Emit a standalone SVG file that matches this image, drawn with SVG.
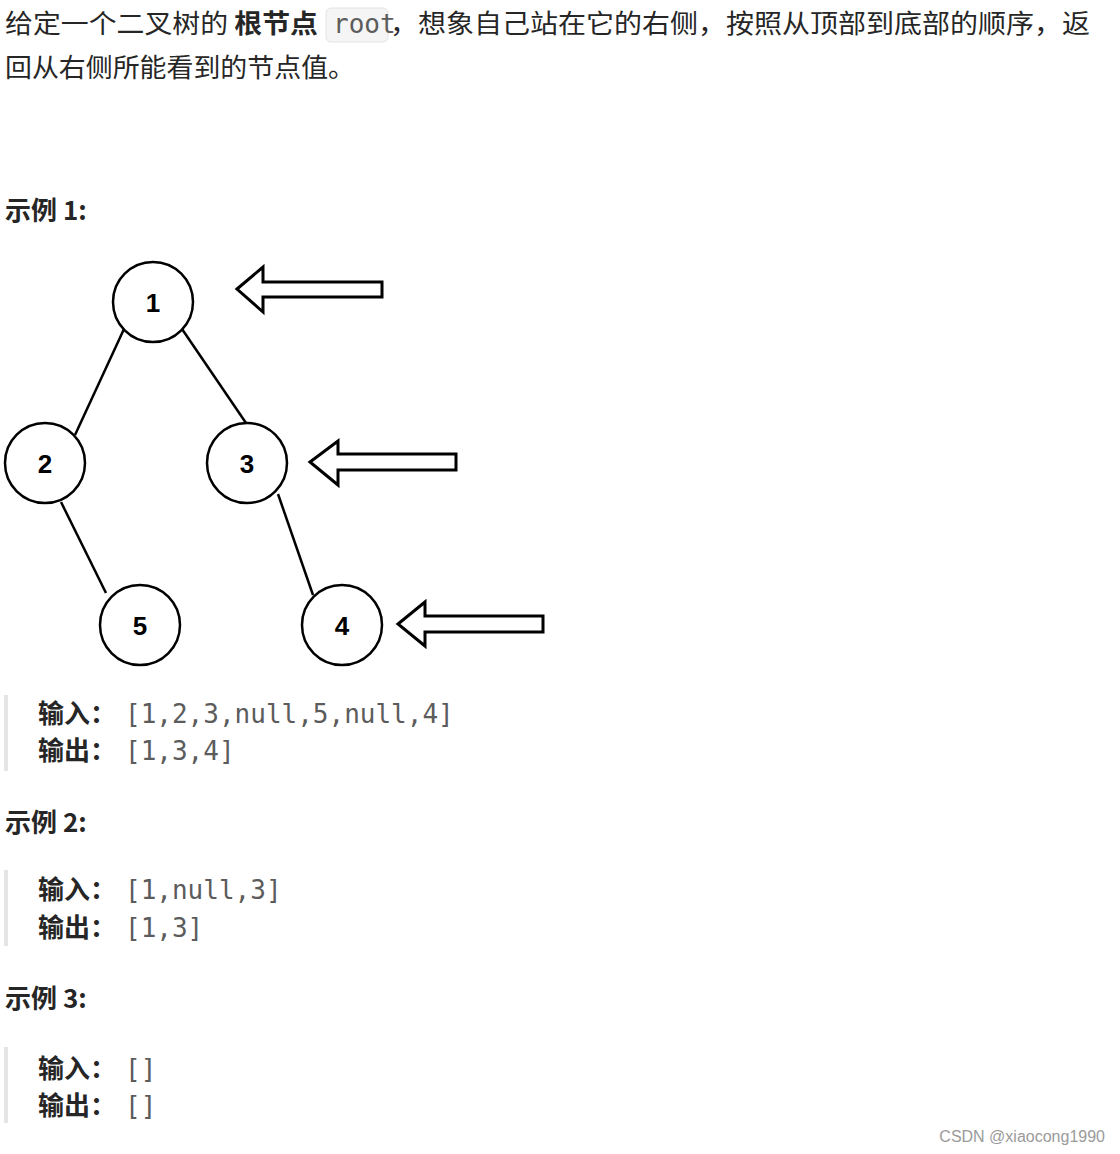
<svg xmlns="http://www.w3.org/2000/svg" width="1120" height="1154" viewBox="0 0 1120 1154">
<style>
.t{font-family:"Noto Sans CJK SC","Liberation Sans",sans-serif;font-size:26px;fill:#262626}
.b{font-weight:bold}
.m{font-family:"DejaVu Sans Mono","Liberation Mono",monospace;font-size:26px;fill:#5c5c5c}
.n circle{fill:#fff;stroke:#000;stroke-width:2.5}
.n text{font-family:"Liberation Sans",sans-serif;font-weight:bold;font-size:26px;text-anchor:middle;fill:#000}
.ar{fill:#fff;stroke:#000;stroke-width:3}
.bar{fill:#e5e5e5}
</style>
<rect width="1120" height="1154" fill="#fff"/>
<text class="t" x="5" y="33" textLength="313" lengthAdjust="spacingAndGlyphs">给定一个二叉树的 <tspan class="b">根节点</tspan></text>
<rect x="326" y="8" width="62" height="34" rx="5" fill="#f5f5f5" stroke="#e3e3e3"/>
<text class="m" x="333" y="33" font-size="21">root</text>
<text class="t" x="390" y="33" textLength="700" lengthAdjust="spacingAndGlyphs">，想象自己站在它的右侧，按照从顶部到底部的顺序，返</text>
<text class="t" x="5" y="77" textLength="350" lengthAdjust="spacingAndGlyphs">回从右侧所能看到的节点值。</text>
<text class="t b" x="5" y="220">示例 1:</text>
<g id="edges" stroke="#000" stroke-width="2.5">
<line x1="124" y1="329" x2="75" y2="435"/>
<line x1="182" y1="329" x2="246" y2="423"/>
<line x1="61" y1="502" x2="106" y2="593"/>
<line x1="278" y1="494" x2="313" y2="595"/>
</g>
<g id="n1" class="n"><circle cx="153" cy="302" r="40"/><text x="153" y="312">1</text></g>
<g id="n2" class="n"><circle cx="45" cy="463" r="40"/><text x="45" y="473">2</text></g>
<g id="n3" class="n"><circle cx="247" cy="463" r="40"/><text x="247" y="473">3</text></g>
<g id="n5" class="n"><circle cx="140" cy="625" r="40"/><text x="140" y="635">5</text></g>
<g id="n4" class="n"><circle cx="342" cy="625" r="40"/><text x="342" y="635">4</text></g>
<g id="arrows">
<polygon class="ar" points="237,289 263,267 263,282 382,282 382,297 263,297 263,312"/>
<polygon class="ar" points="310,462 338,441 338,454 456,454 456,470 338,470 338,485"/>
<polygon class="ar" points="398,624 425,602 425,616 543,616 543,632 425,632 425,646"/>
</g>
<rect class="bar" x="4" y="695" width="4" height="76"/>
<text class="t b" x="38" y="723">输入：</text><text class="m" x="125" y="723">[1,2,3,null,5,null,4]</text>
<text class="t b" x="38" y="760">输出：</text><text class="m" x="125" y="760">[1,3,4]</text>
<text class="t b" x="5" y="832">示例 2:</text>
<rect class="bar" x="4" y="870" width="4" height="76"/>
<text class="t b" x="38" y="899">输入：</text><text class="m" x="125" y="899">[1,null,3]</text>
<text class="t b" x="38" y="937">输出：</text><text class="m" x="125" y="937">[1,3]</text>
<text class="t b" x="5" y="1008">示例 3:</text>
<rect class="bar" x="4" y="1047" width="4" height="76"/>
<text class="t b" x="38" y="1078">输入：</text><text class="m" x="125" y="1078">[]</text>
<text class="t b" x="38" y="1115">输出：</text><text class="m" x="125" y="1115">[]</text>
<text x="1105" y="1142" text-anchor="end" font-family="Liberation Sans,sans-serif" font-size="16" fill="#9a9a9a">CSDN @xiaocong1990</text>
</svg>
